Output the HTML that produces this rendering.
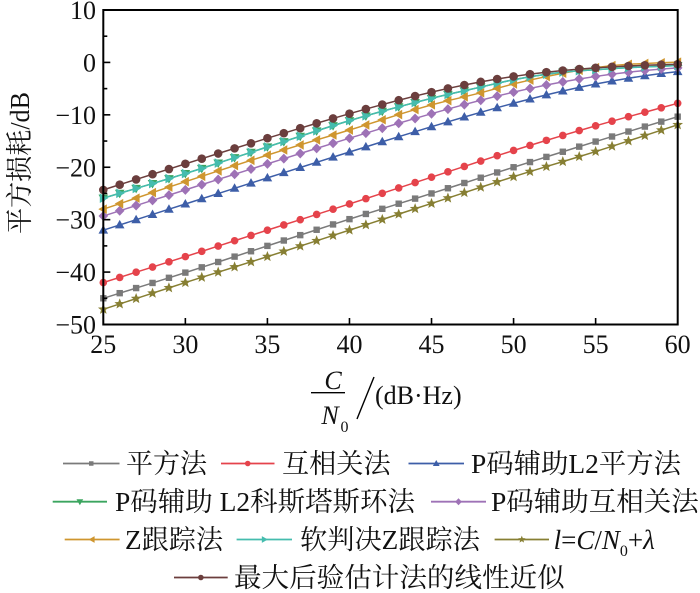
<!DOCTYPE html>
<html><head><meta charset="utf-8">
<style>
html,body{margin:0;padding:0;background:#fff;}
svg{display:block;}
text{font-family:"Liberation Serif","Noto Serif CJK SC",serif;fill:#111;}
</style></head>
<body>
<svg id="s" width="700" height="593" viewBox="0 0 700 593" xmlns="http://www.w3.org/2000/svg">
<rect width="700" height="593" fill="#fff"/>
<g id="series"></g>
<!-- axes box -->
<rect x="103.3" y="10" width="574.4" height="314.5" fill="none" stroke="#000" stroke-width="2"/>
<g id="ticks" stroke="#000" stroke-width="1.6"></g>
<g id="ticklabels" font-size="26"></g>
<!-- y title -->
<text transform="translate(29,163) rotate(-90)" text-anchor="middle" font-size="27" textLength="142" lengthAdjust="spacingAndGlyphs">平方损耗/dB</text>
<!-- x title -->
<text x="333" y="389" font-size="26" font-style="italic" text-anchor="middle">C</text>
<line x1="311" y1="392.7" x2="345" y2="392.7" stroke="#000" stroke-width="1.4"/>
<text x="330" y="424" font-size="26" font-style="italic" text-anchor="middle">N</text>
<text x="344.5" y="432" font-size="16" text-anchor="middle">0</text>
<line x1="357" y1="419" x2="374" y2="377" stroke="#000" stroke-width="1.4"/>
<text x="375" y="404" font-size="26">(dB·Hz)</text>
<g id="legend"></g>
</svg>
<script>
(function(){
var NS="http://www.w3.org/2000/svg";
function X(c){return 103.3+(c-25)*16.411;}
function Y(v){return 10+(10-v)*5.2417;}
function el(tag,attrs,parent){var e=document.createElementNS(NS,tag);for(var k in attrs)e.setAttribute(k,attrs[k]);parent.appendChild(e);return e;}
function mk(xs,ys){
 var n=xs.length,d=[],m=[];
 for(var i=0;i<n-1;i++)d.push((ys[i+1]-ys[i])/(xs[i+1]-xs[i]));
 m[0]=d[0];m[n-1]=d[n-2];
 for(var i=1;i<n-1;i++)m[i]=(d[i-1]*d[i]<=0)?0:(d[i-1]+d[i])/2;
 return function(x){
  var i=0;while(i<n-2&&x>xs[i+1])i++;
  var h=xs[i+1]-xs[i],t=(x-xs[i])/h;
  var h00=2*t*t*t-3*t*t+1,h10=t*t*t-2*t*t+t,h01=-2*t*t*t+3*t*t,h11=t*t*t-t*t;
  return h00*ys[i]+h10*h*m[i]+h01*ys[i+1]+h11*h*m[i+1];
 };
}
function sl(a){return function(c){return -10*Math.log10(1+Math.pow(10,(a-c)/10));};}
var cyanF=mk([25,30,36,40,45,48,50,53,55,57,60],[-25.9,-21.2,-15.1,-11.1,-6.85,-4.7,-3.3,-1.85,-1.4,-1.0,-0.6]);
var series=[
 {c:"#7a7a7a",m:"sq",f:mk([25,30,35,40,45,50,55,60],[-45,-40.1,-35.0,-29.9,-25.0,-20.0,-15.1,-10.35])},
 {c:"#e5434b",m:"ci",r:3.8,f:mk([25,30,35,40,45,50,55,60],[-42,-37.05,-32,-27,-21.9,-16.8,-12.1,-7.8])},
 {c:"#3d5ea8",m:"tu",f:sl(57)},
 {c:"#3ba55f",m:"td",f:cyanF},
 {c:"#9e72b6",m:"di",f:sl(54.3)},
 {c:"#cf962f",m:"tl",f:mk([25,30,36,40,45,48,50,52,54,56,58,60],[-28,-22.75,-16.7,-12.9,-8.1,-5.8,-4.1,-2.7,-1.5,-0.6,-0.2,0.05])},
 {c:"#45bcae",m:"tr",f:cyanF},
 {c:"#877f33",m:"st",f:mk([25,30,35,40,45,50,55,60],[-47.1,-42.0,-37.05,-32,-26.9,-21.8,-17,-11.9])},
 {c:"#6b3e3d",m:"ci",r:4.3,f:sl(49.3)}
];
function marker(g,type,x,y,col,s,r){
 var k=s;
 if(type=="sq"){el("rect",{x:x-3.2*k,y:y-3.2*k,width:6.4*k,height:6.4*k,fill:col},g);}
 else if(type=="ci"){el("circle",{cx:x,cy:y,r:(r||4)*k,fill:col},g);}
 else if(type=="tu"){el("polygon",{points:[x,y-5*k,x+4.8*k,y+3.5*k,x-4.8*k,y+3.5*k].join(","),fill:col},g);}
 else if(type=="td"){el("polygon",{points:[x,y+5*k,x+4.8*k,y-3.5*k,x-4.8*k,y-3.5*k].join(","),fill:col},g);}
 else if(type=="tl"){el("polygon",{points:[x-5*k,y,x+3.5*k,y-4.8*k,x+3.5*k,y+4.8*k].join(","),fill:col},g);}
 else if(type=="tr"){el("polygon",{points:[x+5*k,y,x-3.5*k,y-4.8*k,x-3.5*k,y+4.8*k].join(","),fill:col},g);}
 else if(type=="di"){el("polygon",{points:[x,y-5*k,x+4.8*k,y,x,y+5*k,x-4.8*k,y].join(","),fill:col},g);}
 else if(type=="st"){
  var p=[];for(var i=0;i<10;i++){var a=-Math.PI/2+i*Math.PI/5;var rr=(i%2?2.4:5.6)*k;p.push((x+rr*Math.cos(a)).toFixed(2)+","+(y+rr*Math.sin(a)).toFixed(2));}
  el("polygon",{points:p.join(" "),fill:col},g);
 }
}
var sg=document.getElementById("series");
series.forEach(function(s){
 var g=el("g",{},sg),pts=[];
 for(var c=25;c<=60;c++)pts.push(X(c).toFixed(2)+","+Y(s.f(c)).toFixed(2));
 el("polyline",{points:pts.join(" "),fill:"none",stroke:s.c,"stroke-width":1.5},g);
 for(var c=25;c<=60;c++)marker(g,s.m,X(c),Y(s.f(c)),s.c,1,s.r);
});
// ticks
var tg=document.getElementById("ticks"),lg=document.getElementById("ticklabels");
for(var v=10;v>=-50;v-=5){
 var y=Y(v),len=(v%10==0)?7:4;
 if(v<10&&v>-50)el("line",{x1:103.3,y1:y,x2:103.3+len,y2:y},tg);
 if(v%10==0){var t=el("text",{x:96,y:y+9,"text-anchor":"end"},lg);t.textContent=(v<0?"\u2212":"")+Math.abs(v);}
}
for(var c=25;c<=60;c+=5){
 var x=X(c);
 if(c>25&&c<60)el("line",{x1:x,y1:324.5,x2:x,y2:318},tg);
 var t=el("text",{x:x,y:353,"text-anchor":"middle"},lg);t.textContent=c;
}
// legend
var L=document.getElementById("legend");
var items=[
 [0,463.5,63,119.5,126,"平方法",81],
 [1,463.5,221,274.5,282,"互相关法",108.6],
 [2,463.5,408.5,464,471,"P码辅助L2平方法",210],
 [3,501.7,52.7,107,115,"P码辅助 L2科斯塔斯环法",300],
 [4,501.7,431,486,491,"P码辅助互相关法",207.7],
 [5,539.5,64.7,119.6,125,"Z跟踪法",98],
 [6,539.5,236.6,292,300,"软判决Z跟踪法",180],
 [7,539.5,494.6,549,553.6,null,0],
 [8,577.5,174,227.7,234,"最大后验估计法的线性近似",330.7]
];
items.forEach(function(it){
 var s=series[it[0]],y=it[1];
 el("line",{x1:it[2],y1:y,x2:it[3],y2:y,stroke:s.c,"stroke-width":1.8},L);
 marker(L,s.m,(it[2]+it[3])/2,y,s.c,0.7,s.m=="ci"?4:null);
 if(it[5]){
  var t=el("text",{x:it[4],y:y+9.5,"font-size":27,textLength:it[6],lengthAdjust:"spacingAndGlyphs"},L);
  t.textContent=it[5];
 } else {
  var t=el("text",{x:it[4],y:y+9.5,"font-size":27},L);
  var parts=[["l","italic",27,0],["=","normal",27,0],["C","italic",27,0],["/","normal",27,0],["N","italic",27,0],["0","normal",16,7],["+","normal",27,-7],["λ","italic",27,0]];
  parts.forEach(function(p){var ts=el("tspan",{"font-style":p[1],"font-size":p[2],dy:p[3]},t);ts.textContent=p[0];});
 }
});
})();
</script>
</body></html>
